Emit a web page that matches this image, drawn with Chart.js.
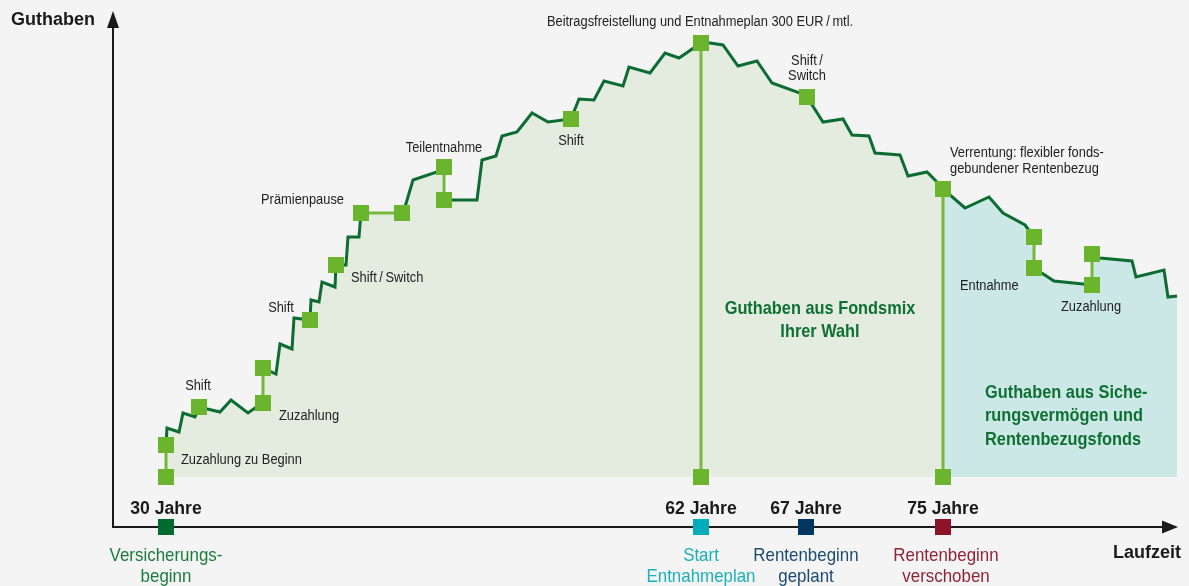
<!DOCTYPE html>
<html lang="de">
<head>
<meta charset="utf-8">
<title>Guthaben Verlauf</title>
<script src="https://cdn.jsdelivr.net/npm/chart.js@4.4.1/dist/chart.umd.min.js"></script>
<style>
  html, body { margin: 0; padding: 0; background: #f3f4f3; }
  #wrap { position: relative; width: 1189px; height: 586px; }
</style>
</head>
<body>
<div id="wrap"><canvas id="chart"></canvas></div>
<script>
// Verlauf des Guthabens (x = Laufzeit, y = Guthaben), null = Unterbrechung
const pathX = [166, 167, 179, 183, 195, 199, 220, 231, 248, 255, 263, 263,
  263, 276, 280, 292, 294, 310, 311, 319, 322, 335, 336, 346, 348, 359, 361, 361,
  402, 405, 413, 437, 444, 444,
  444, 477, 482, 496, 502, 517, 532, 548, 571, 579, 594, 604, 623, 629, 650, 665, 679,
  701, 710, 723, 738, 757, 772, 800, 807, 823, 843, 852, 869, 875, 900, 908, 927, 935,
  943, 965, 989, 1003, 1025, 1034, 1034,
  1034, 1054, 1083, 1092, 1092,
  1092, 1100, 1132, 1136, 1164, 1168, 1177];
const pathY = [32, 49, 45, 64, 60, 70, 65, 77, 64, 69, 74, null,
  109, 103, 133, 128, 159, 157, 177, 175, 195, 190, 212, 212, 240, 240, 264, null,
  264, 270, 297, 305, 310, null,
  277, 277, 317, 321, 341, 345, 364, 355, 358, 378, 377, 396, 391, 410, 404, 424, 419,
  434, 434, 432, 411, 416, 394, 384, 380, 355, 358, 342, 341, 324, 322, 301, 305, 297,
  288, 269, 280, 264, 252, 240, null,
  209, 196, 193, 192, null,
  223, 219, 216, 200, 207, 180, 181];

// Ereignisse (Marker)
const eventX = [166, 166, 199, 263, 263, 310, 336, 361, 402, 444, 444, 571,
  701, 701, 807, 943, 943, 1034, 1034, 1092, 1092];
const eventY = [0, 32, 70, 74, 109, 157, 212, 264, 264, 310, 277, 358,
  434, 0, 380, 288, 0, 240, 209, 192, 223];

// Verbindungen zwischen Markern
const linkX = [166, 166, null, 263, 263, null, 361, 402, null, 444, 444, null,
  701, 701, null, 943, 943, null, 1034, 1034, null, 1092, 1092];
const linkY = [0, 32, null, 74, 109, null, 264, 264, null, 310, 277, null,
  434, 0, null, 288, 0, null, 240, 209, null, 192, 223];

// Zeitachse
const ageX = [166, 701, 806, 943];
const ageLabels = ["30 Jahre", "62 Jahre", "67 Jahre", "75 Jahre"];
const ageNotes = [["Versicherungs-", "beginn"], ["Start", "Entnahmeplan"],
  ["Rentenbeginn", "geplant"], ["Rentenbeginn", "verschoben"]];
const ageColors = ["#006b31", "#00adb8", "#00365f", "#8d1427"];
const noteColors = ["#1b7b3d", "#1bb0ba", "#1d4a72", "#922336"];
const axisY = -50;
const switchX = 943;

const pts = (xs, ys) => xs.map((x, i) => ({ x: x, y: ys[i] }));
const pathPts = pts(pathX, pathY);
const solid = pathPts.filter(p => p.y !== null);
const fillLeft = solid.filter(p => p.x <= switchX);
const fillRight = solid.filter(p => p.x >= switchX);

const SANS = '"Liberation Sans", Arial, sans-serif';

// Beschriftungen im Diagramm
const notes = [
  { t: "Beitragsfreistellung und Entnahmeplan 300 EUR\u2009/\u2009mtl.", x: 700, y: 455, a: "center" },
  { t: "Shift\u2009/", x: 807, y: 416, a: "center" },
  { t: "Switch", x: 807, y: 401, a: "center" },
  { t: "Verrentung: flexibler fonds-", x: 950, y: 324, a: "left" },
  { t: "gebundener Rentenbezug", x: 950, y: 308, a: "left" },
  { t: "Entnahme", x: 960, y: 191, a: "left" },
  { t: "Zuzahlung", x: 1091, y: 170, a: "center" },
  { t: "Teilentnahme", x: 444, y: 329, a: "center" },
  { t: "Prämienpause", x: 344, y: 277, a: "right" },
  { t: "Shift\u2009/\u2009Switch", x: 351, y: 199, a: "left" },
  { t: "Shift", x: 281, y: 169, a: "center" },
  { t: "Shift", x: 198, y: 91, a: "center" },
  { t: "Zuzahlung", x: 279, y: 61, a: "left" },
  { t: "Zuzahlung zu Beginn", x: 181, y: 17, a: "left" },
  { t: "Shift", x: 571, y: 336, a: "center" }
];
const boldNotes = [
  { t: "Guthaben aus Fondsmix", x: 820, y: 168, a: "center" },
  { t: "Ihrer Wahl", x: 820, y: 145, a: "center" },
  { t: "Guthaben aus Siche-", x: 985, y: 84, a: "left" },
  { t: "rungsvermögen und", x: 985, y: 61, a: "left" },
  { t: "Rentenbezugsfonds", x: 985, y: 37, a: "left" }
];

// schmale Schrift: Text horizontal stauchen
function narrowText(ctx, text, x, y, align, sx) {
  ctx.save();
  ctx.translate(x, y);
  ctx.scale(sx, 1);
  ctx.textAlign = align;
  ctx.fillText(text, 0, 0);
  ctx.restore();
}

const decor = {
  id: "decor",
  beforeDatasetsDraw(chart) {
    const ctx = chart.ctx;
    const xs = chart.scales.x, ys = chart.scales.y;
    const ox = xs.getPixelForValue(113), oy = ys.getPixelForValue(axisY);
    ctx.save();
    ctx.strokeStyle = "#1a1a1a";
    ctx.fillStyle = "#1a1a1a";
    ctx.lineWidth = 2;
    // y-Achse
    ctx.beginPath();
    ctx.moveTo(ox, oy + 1);
    ctx.lineTo(ox, 26);
    ctx.stroke();
    ctx.beginPath();
    ctx.moveTo(ox, 11);
    ctx.lineTo(ox - 6, 28);
    ctx.lineTo(ox + 6, 28);
    ctx.closePath();
    ctx.fill();
    // x-Achse
    const ex = xs.getPixelForValue(1178);
    ctx.beginPath();
    ctx.moveTo(ox - 1, oy);
    ctx.lineTo(ex - 12, oy);
    ctx.stroke();
    ctx.beginPath();
    ctx.moveTo(ex, oy);
    ctx.lineTo(ex - 16, oy - 6.5);
    ctx.lineTo(ex - 16, oy + 6.5);
    ctx.closePath();
    ctx.fill();
    ctx.restore();
  },
  afterDatasetsDraw(chart) {
    const ctx = chart.ctx;
    const xs = chart.scales.x, ys = chart.scales.y;
    const oy = ys.getPixelForValue(axisY);
    ctx.save();
    ctx.textBaseline = "middle";
    ctx.fillStyle = "#1a1a1a";
    ctx.font = "bold 18px " + SANS;
    narrowText(ctx, "Guthaben", 11, 20, "left", 1);
    narrowText(ctx, "Laufzeit", 1181, 553, "right", 1);
    ageX.forEach((v, i) => {
      const px = xs.getPixelForValue(v);
      ctx.fillStyle = "#1a1a1a";
      ctx.font = "bold 18px " + SANS;
      narrowText(ctx, ageLabels[i], px, oy - 18, "center", 0.98);
      ctx.fillStyle = noteColors[i];
      ctx.font = "19px " + SANS;
      const nx = i === 3 ? px + 3 : px;
      narrowText(ctx, ageNotes[i][0], nx, oy + 29, "center", 0.89);
      narrowText(ctx, ageNotes[i][1], nx, oy + 50, "center", 0.89);
    });
    ctx.fillStyle = "#222";
    ctx.font = "15.5px " + SANS;
    notes.forEach(n => {
      narrowText(ctx, n.t, xs.getPixelForValue(n.x), ys.getPixelForValue(n.y), n.a, 0.83);
    });
    ctx.fillStyle = "#0f7034";
    ctx.font = "bold 19px " + SANS;
    boldNotes.forEach(n => {
      narrowText(ctx, n.t, xs.getPixelForValue(n.x), ys.getPixelForValue(n.y), n.a, 0.86);
    });
    ctx.restore();
  }
};

new Chart(document.getElementById("chart"), {
  type: "line",
  data: {
    datasets: [
      {
        label: "Zeitachse",
        data: ageX.map(x => ({ x: x, y: axisY })),
        showLine: false,
        pointStyle: "rect",
        pointRadius: 11.3,
        pointBorderWidth: 0,
        pointBackgroundColor: ageColors,
        order: 0
      },
      {
        label: "Ereignisse",
        data: pts(eventX, eventY),
        showLine: false,
        pointStyle: "rect",
        pointRadius: 11.3,
        pointBorderWidth: 0,
        pointBackgroundColor: "#6ab42e",
        order: 1
      },
      {
        label: "Guthaben",
        data: pathPts,
        borderColor: "#0c6c31",
        borderWidth: 3,
        borderJoinStyle: "miter",
        pointRadius: 0,
        spanGaps: false,
        tension: 0,
        fill: false,
        order: 2
      },
      {
        label: "Verbindung",
        data: pts(linkX, linkY),
        borderColor: "#74b83c",
        borderWidth: 3,
        pointRadius: 0,
        spanGaps: false,
        fill: false,
        order: 3
      },
      {
        label: "Sicherungsvermögen",
        data: fillRight,
        borderWidth: 0,
        borderColor: "rgba(0,0,0,0)",
        backgroundColor: "#cbe7e6",
        pointRadius: 0,
        fill: "origin",
        order: 4
      },
      {
        label: "Fondsmix",
        data: fillLeft,
        borderWidth: 0,
        borderColor: "rgba(0,0,0,0)",
        backgroundColor: "#e4ece0",
        pointRadius: 0,
        fill: "origin",
        order: 5
      }
    ]
  },
  options: {
    responsive: true,
    maintainAspectRatio: false,
    animation: false,
    layout: { padding: 0, autoPadding: false },
    plugins: { legend: { display: false }, tooltip: { enabled: false } },
    scales: {
      x: { type: "linear", min: 0, max: 1189, display: false },
      y: { type: "linear", min: -109, max: 477, display: false }
    }
  },
  plugins: [decor]
});
</script>
</body>
</html>
